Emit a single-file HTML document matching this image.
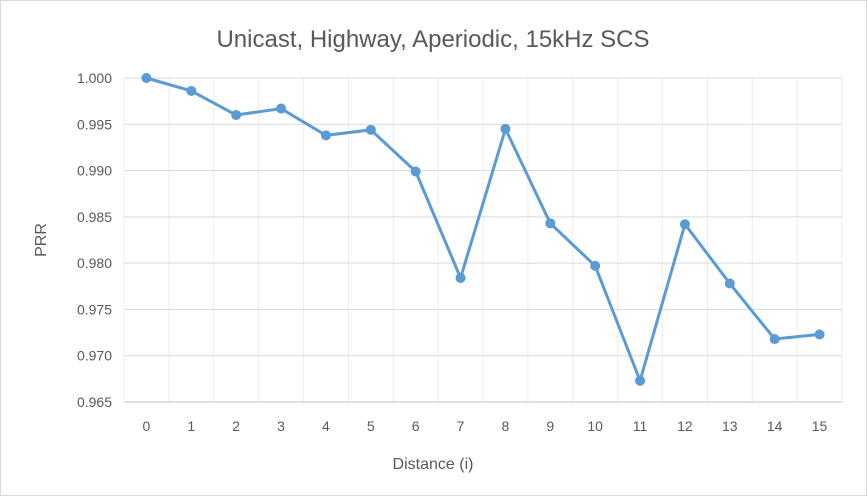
<!DOCTYPE html>
<html><head><meta charset="utf-8"><style>
html,body{margin:0;padding:0;background:#fff}
svg{display:block;font-family:"Liberation Sans",sans-serif}
</style></head><body>
<svg id="chart" width="867" height="496">
<rect x="0.5" y="0.5" width="866" height="495" fill="#fff" stroke="#d9d9d9"/>
<text x="433" y="47" text-anchor="middle" font-size="24" fill="#595959">Unicast, Highway, Aperiodic, 15kHz SCS</text>
<g id="grid"></g><g id="axes"></g><g id="series"></g>
<text x="433" y="469" text-anchor="middle" font-size="16" fill="#595959">Distance (i)</text>
<text transform="translate(46,240) rotate(-90)" text-anchor="middle" font-size="16" fill="#595959">PRR</text>
</svg>
<script>
const categories=["0","1","2","3","4","5","6","7","8","9","10","11","12","13","14","15"];
const prrValues=[1.0000,0.9986,0.9960,0.9967,0.9938,0.9944,0.9899,0.9784,0.9945,0.9843,0.9797,0.9673,0.9842,0.9778,0.9718,0.9723];
const yTicks=[0.965,0.970,0.975,0.980,0.985,0.990,0.995,1.000];
const yMin=0.965,yMax=1.000;
const plotL=124,plotR=842,plotT=78,plotB=402;
const NS="http://www.w3.org/2000/svg";
const step=(plotR-plotL)/categories.length;
function xPos(i){return plotL+step*(i+0.5);}
function yPos(v){return plotB-(v-yMin)/(yMax-yMin)*(plotB-plotT);}
function mk(tag,attrs,parent){const e=document.createElementNS(NS,tag);for(const k in attrs)e.setAttribute(k,attrs[k]);parent.appendChild(e);return e;}
const grid=document.getElementById('grid'),axes=document.getElementById('axes'),series=document.getElementById('series');
for(let i=0;i<=categories.length;i++){
  const x=plotL+step*i;
  const l=mk('line',{x1:x,x2:x,y1:plotT,y2:plotB,stroke:'#ececec','stroke-width':1},grid);
  
  
}
yTicks.forEach(t=>{
  const y=yPos(t);
  const l=mk('line',{x1:plotL,x2:plotR,y1:y,y2:y,stroke:t===yMin?'#bfbfbf':'#d9d9d9','stroke-width':1},grid);
  
  
  const tx=mk('text',{x:plotL-12,y:y+5,'text-anchor':'end','font-size':14,fill:'#595959'},axes);
  tx.textContent=t.toFixed(3);
  
  
});
categories.forEach((c,i)=>{
  const tx=mk('text',{x:xPos(i),y:plotB+29,'text-anchor':'middle','font-size':14,fill:'#595959'},axes);
  tx.textContent=c;
  
  
});
const pts=prrValues.map((v,i)=>xPos(i)+','+yPos(v)).join(' ');
const pl=mk('polyline',{points:pts,fill:'none',stroke:'#5b9bd5','stroke-width':3,'stroke-linejoin':'round'},series);


prrValues.forEach((v,i)=>{
  const c=mk('circle',{cx:xPos(i),cy:yPos(v),r:5,fill:'#5b9bd5'},series);
  
  
});
</script>
</body></html>
